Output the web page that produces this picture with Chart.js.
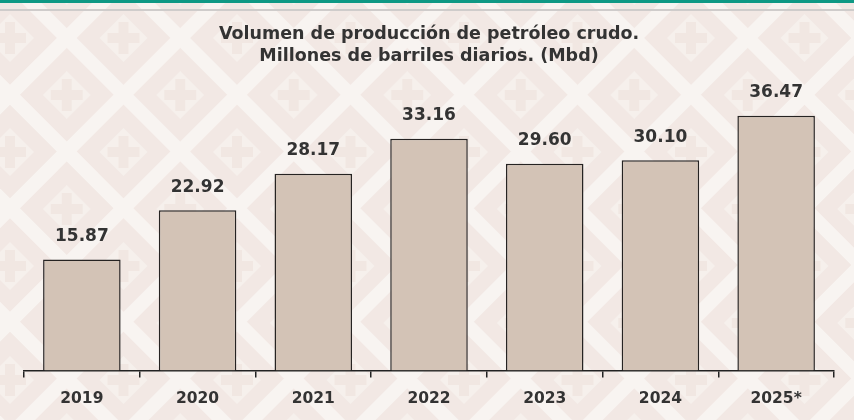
<!DOCTYPE html>
<html>
<head>
<meta charset="utf-8">
<script src="https://cdn.jsdelivr.net/npm/chart.js@4"></script>
<style>
  html, body { margin: 0; padding: 0; background: #f3e9e5; }
  #wrap { width: 854px; height: 420px; position: relative; }
</style>
</head>
<body>
<div id="wrap"><canvas id="chart" width="854" height="420"></canvas></div>
<script>
const years = ['2019', '2020', '2021', '2022', '2023', '2024', '2025*'];
const produccion = [15.87, 22.92, 28.17, 33.16, 29.60, 30.10, 36.47];
const titulo = ['Volumen de producción de petróleo crudo.', 'Millones de barriles diarios. (Mbd)'];

const FONT = '"DejaVu Sans", sans-serif';
const INK = '#333333';

// fondo con patrón de rombos y cruces
const fondo = {
  id: 'fondo',
  beforeDraw(c) {
    const ctx = c.ctx, W = c.width, H = c.height;
    ctx.save();
    ctx.fillStyle = '#f2e8e4';
    ctx.fillRect(0, 0, W, H);
    const px = 113.5, py = 57, ox = 10, oy = 38;
    // franjas diagonales claras
    ctx.strokeStyle = '#f8f4f1';
    ctx.lineWidth = 14;
    for (let k = -10; k < 20; k++) {
      const a = 104.75 + k * px;   // x + y = a
      ctx.beginPath(); ctx.moveTo(a + 50, -50); ctx.lineTo(a - H - 50, H + 50); ctx.stroke();
      const b = 28.75 + k * px;    // x - y = b
      ctx.beginPath(); ctx.moveTo(b - 50, -50); ctx.lineTo(b + H + 50, H + 50); ctx.stroke();
    }
    // rombos con cruz
    for (let r = -1; r < 9; r++) {
      for (let m = -1; m < 10; m++) {
        const cx = ox + m * px + (r % 2 ? px / 2 : 0), cy = oy + r * py;
        ctx.fillStyle = '#f6f0ec';
        ctx.beginPath();
        ctx.moveTo(cx, cy - 24); ctx.lineTo(cx + 24, cy); ctx.lineTo(cx, cy + 24); ctx.lineTo(cx - 24, cy);
        ctx.closePath(); ctx.fill();
        ctx.fillStyle = '#f1e7e2';
        ctx.fillRect(cx - 16, cy - 5, 32, 10);
        ctx.fillRect(cx - 5, cy - 16, 10, 32);
      }
    }
    // franja superior
    ctx.fillStyle = '#0e9884';
    ctx.fillRect(0, 0, W, 3);
    ctx.fillStyle = '#cfcccb';
    ctx.fillRect(0, 9, W, 2);
    ctx.restore();
  }
};

// etiquetas de valor sobre las barras
const etiquetas = {
  id: 'etiquetas',
  afterDatasetsDraw(c) {
    const ctx = c.ctx;
    ctx.save();
    ctx.font = 'bold 17px ' + FONT;
    ctx.fillStyle = INK;
    ctx.textAlign = 'center';
    ctx.textBaseline = 'middle';
    c.getDatasetMeta(0).data.forEach((bar, i) => {
      ctx.fillText(produccion[i].toFixed(2), bar.x, bar.y - 23);
    });
    ctx.restore();
  }
};

new Chart(document.getElementById('chart'), {
  type: 'bar',
  data: {
    labels: years,
    datasets: [{
      data: produccion,
      backgroundColor: '#d3c3b6',
      borderColor: '#262322',
      borderWidth: 1.5,
      barPercentage: 0.67,
      categoryPercentage: 1
    }]
  },
  options: {
    responsive: false,
    animation: false,
    layout: { padding: { left: 24, right: 20, top: 0, bottom: 0 } },
    plugins: {
      legend: { display: false },
      tooltip: { enabled: false },
      title: {
        display: true,
        text: titulo,
        color: INK,
        font: { family: FONT, size: 17.5, weight: 'bold', lineHeight: 1.26 },
        padding: { top: 23, bottom: 24 }
      }
    },
    scales: {
      y: { display: false, min: 0, max: 40 },
      x: {
        border: { color: '#222', width: 1.5 },
        grid: { offset: true, drawOnChartArea: false, drawTicks: true, tickLength: 7, color: '#222', lineWidth: 1.5 },
        ticks: { color: INK, font: { family: FONT, size: 15.5, weight: 'bold' }, padding: 12 }
      }
    }
  },
  plugins: [fondo, etiquetas]
});
</script>
</body>
</html>
